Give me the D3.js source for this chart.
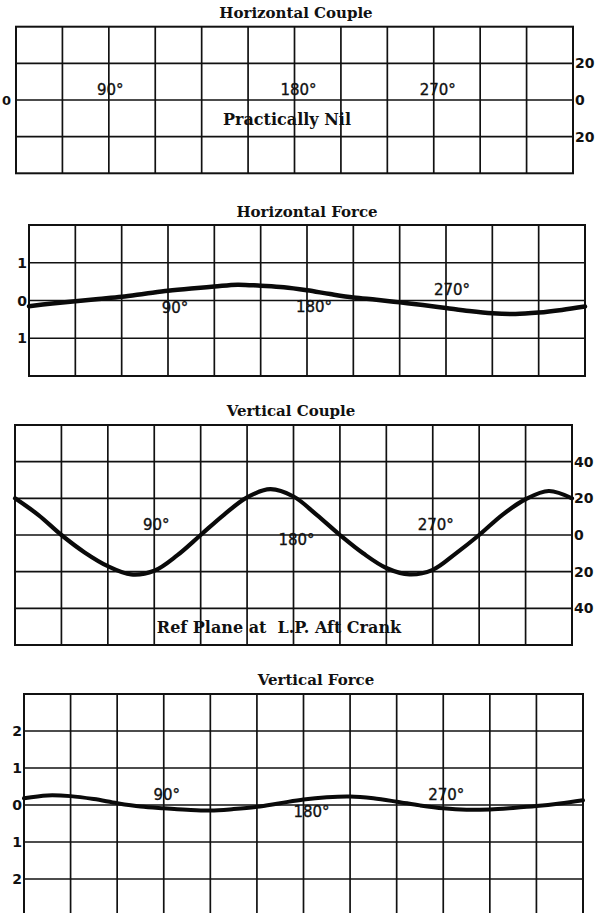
<!DOCTYPE html>
<html>
<head>
<meta charset="utf-8">
<script src="https://cdn.jsdelivr.net/npm/d3@7"></script>
<style>
  html, body { margin: 0; padding: 0; background: #fff; overflow: hidden; }
  svg { display: block; }
  .title, .note { font-family: "DejaVu Serif", serif; font-weight: bold; fill: #111; white-space: pre; }
  .angle { font-family: "DejaVu Sans", sans-serif; fill: #111; stroke: #111; stroke-width: 0.35; }
  .tick { font-family: "DejaVu Sans", sans-serif; font-weight: bold; fill: #111; }
</style>
</head>
<body>
<svg id="chart" width="598" height="913"></svg>
<script>
// Crank angle (degrees) at which each curve value is read
const crankAngles = [0, 15, 30, 45, 60, 75, 90, 105, 120, 135, 150, 165, 180,
                     195, 210, 225, 240, 255, 270, 285, 300, 315, 330, 345, 360];

// Horizontal force (units)
const horizontalForce = [-0.15, -0.08, -0.02, 0.04, 0.10, 0.18, 0.26, 0.32, 0.37, 0.42, 0.39, 0.35, 0.27,
                         0.17, 0.08, 0.02, -0.05, -0.12, -0.20, -0.28, -0.34, -0.36, -0.32, -0.25, -0.16];

// Vertical couple (ref. plane at L.P. aft crank)
const verticalCouple = [20, 11, 0, -9.5, -17, -21.5, -19.5, -11, 0, 11, 20.5, 25, 21,
                        11, 0, -10, -18, -21.5, -19, -10, 0, 11, 19.5, 24, 20];

// Vertical force (units)
const verticalForce = [0.18, 0.26, 0.24, 0.16, 0.05, -0.04, -0.09, -0.13, -0.15, -0.11, -0.05, 0.05, 0.15,
                       0.21, 0.23, 0.18, 0.09, -0.01, -0.09, -0.13, -0.12, -0.08, -0.03, 0.04, 0.13];

// Axis labels
const angleTicks = [90, 180, 270];
const angleTickLabels = ["90°", "180°", "270°"];
const hCoupleTicks = [20, 0, -20];
const hForceTicks = [1, 0, -1];
const vCoupleTicks = [40, 20, 0, -20, -40];
const vForceTicks = [2, 1, 0, -1, -2];

const panelTitles = ["Horizontal Couple", "Horizontal Force", "Vertical Couple", "Vertical Force"];

const svg = d3.select("#chart");

// Layout of the four stacked grids
const panels = [
  { title: panelTitles[0], left: 16, right: 573, top: 26.7, bottom: 173.3, domain: [-40, 40], step: 20,
    titleX: 296, titleY: 18, ticks: hCoupleTicks, tickSide: "both", values: null,
    angleLab: [{dx: -45, y: 95}, {dx: 4, y: 95}, {dx: 4, y: 95}],
    note: { text: "Practically Nil", x: 287, y: 125 } },
  { title: panelTitles[1], left: 29, right: 585, top: 225, bottom: 376, domain: [-2, 2], step: 1,
    titleX: 307, titleY: 217, ticks: hForceTicks, tickSide: "left", values: horizontalForce,
    angleLab: [{dx: 7, y: 313}, {dx: 7, y: 312}, {dx: 6, y: 295}], width: 4.5 },
  { title: panelTitles[2], left: 15, right: 572, top: 425, bottom: 645, domain: [-60, 60], step: 20,
    titleX: 291, titleY: 416, ticks: vCoupleTicks, tickSide: "right", values: verticalCouple,
    angleLab: [{dx: 2, y: 530}, {dx: 3, y: 545}, {dx: 3, y: 530}], width: 4.2,
    note: { text: "Ref Plane at  L.P. Aft Crank", x: 279, y: 633 } },
  { title: panelTitles[3], left: 24, right: 583, top: 694, bottom: 916, domain: [-3, 3], step: 1,
    titleX: 316, titleY: 685, ticks: vForceTicks, tickSide: "left", values: verticalForce,
    angleLab: [{dx: 3, y: 800}, {dx: 8, y: 817}, {dx: 3, y: 800}], width: 4 }
];

panels.forEach(p => {
  const x = d3.scaleLinear().domain([0, 360]).range([p.left, p.right]);
  const y = d3.scaleLinear().domain(p.domain).range([p.bottom, p.top]);
  const g = svg.append("g");

  // grid: a line every 30 degrees and every value step
  const xGrid = d3.range(30, 360, 30);
  const yGrid = d3.range(p.domain[0] + p.step, p.domain[1], p.step);

  g.selectAll("line.v").data(xGrid).join("line")
    .attr("x1", d => x(d)).attr("x2", d => x(d))
    .attr("y1", p.top).attr("y2", p.bottom)
    .attr("stroke", "#111").attr("stroke-width", 1.7);

  g.selectAll("line.h").data(yGrid).join("line")
    .attr("x1", p.left).attr("x2", p.right)
    .attr("y1", d => y(d)).attr("y2", d => y(d))
    .attr("stroke", "#111").attr("stroke-width", 1.7);

  g.append("rect")
    .attr("x", p.left).attr("y", p.top)
    .attr("width", p.right - p.left).attr("height", p.bottom - p.top)
    .attr("fill", "none").attr("stroke", "#111").attr("stroke-width", 2);

  // title
  svg.append("text").attr("class", "title")
    .attr("x", p.titleX).attr("y", p.titleY)
    .attr("text-anchor", "middle").attr("font-size", 15)
    .text(p.title);

  // value labels (signs omitted, as on the original scales)
  const fmt = d => String(Math.abs(d));
  if (p.tickSide === "right" || p.tickSide === "both") {
    g.selectAll("text.r").data(p.ticks).join("text").attr("class", "tick")
      .attr("x", p.right + 2).attr("y", d => y(d))
      .attr("dy", "0.36em").attr("font-size", 14)
      .text(fmt);
  }
  if (p.tickSide === "left") {
    g.selectAll("text.l").data(p.ticks).join("text").attr("class", "tick")
      .attr("x", p.left - 2).attr("y", d => y(d))
      .attr("dy", "0.36em").attr("font-size", 14).attr("text-anchor", "end")
      .text(fmt);
  }
  if (p.tickSide === "both") {
    g.append("text").attr("class", "tick")
      .attr("x", p.left - 5).attr("y", y(0))
      .attr("dy", "0.36em").attr("font-size", 13).attr("text-anchor", "end")
      .text("0");
  }

  // crank angle labels
  g.selectAll("text.ang").data(angleTicks).join("text").attr("class", "angle")
    .attr("x", (d, i) => x(d) + p.angleLab[i].dx)
    .attr("y", (d, i) => p.angleLab[i].y)
    .attr("text-anchor", "middle").attr("font-size", 15)
    .text((d, i) => angleTickLabels[i]);

  if (p.note) {
    g.append("text").attr("class", "note")
      .attr("x", p.note.x).attr("y", p.note.y)
      .attr("text-anchor", "middle").attr("font-size", 16)
      .text(p.note.text);
  }

  // curve
  if (p.values) {
    const line = d3.line()
      .x((d, i) => x(crankAngles[i]))
      .y(d => y(d))
      .curve(d3.curveCatmullRom.alpha(0.5));
    g.append("path").datum(p.values)
      .attr("d", line)
      .attr("fill", "none").attr("stroke", "#0a0a0a")
      .attr("stroke-width", p.width)
      .attr("stroke-linejoin", "round").attr("stroke-linecap", "round");
  }
});
</script>
</body>
</html>
